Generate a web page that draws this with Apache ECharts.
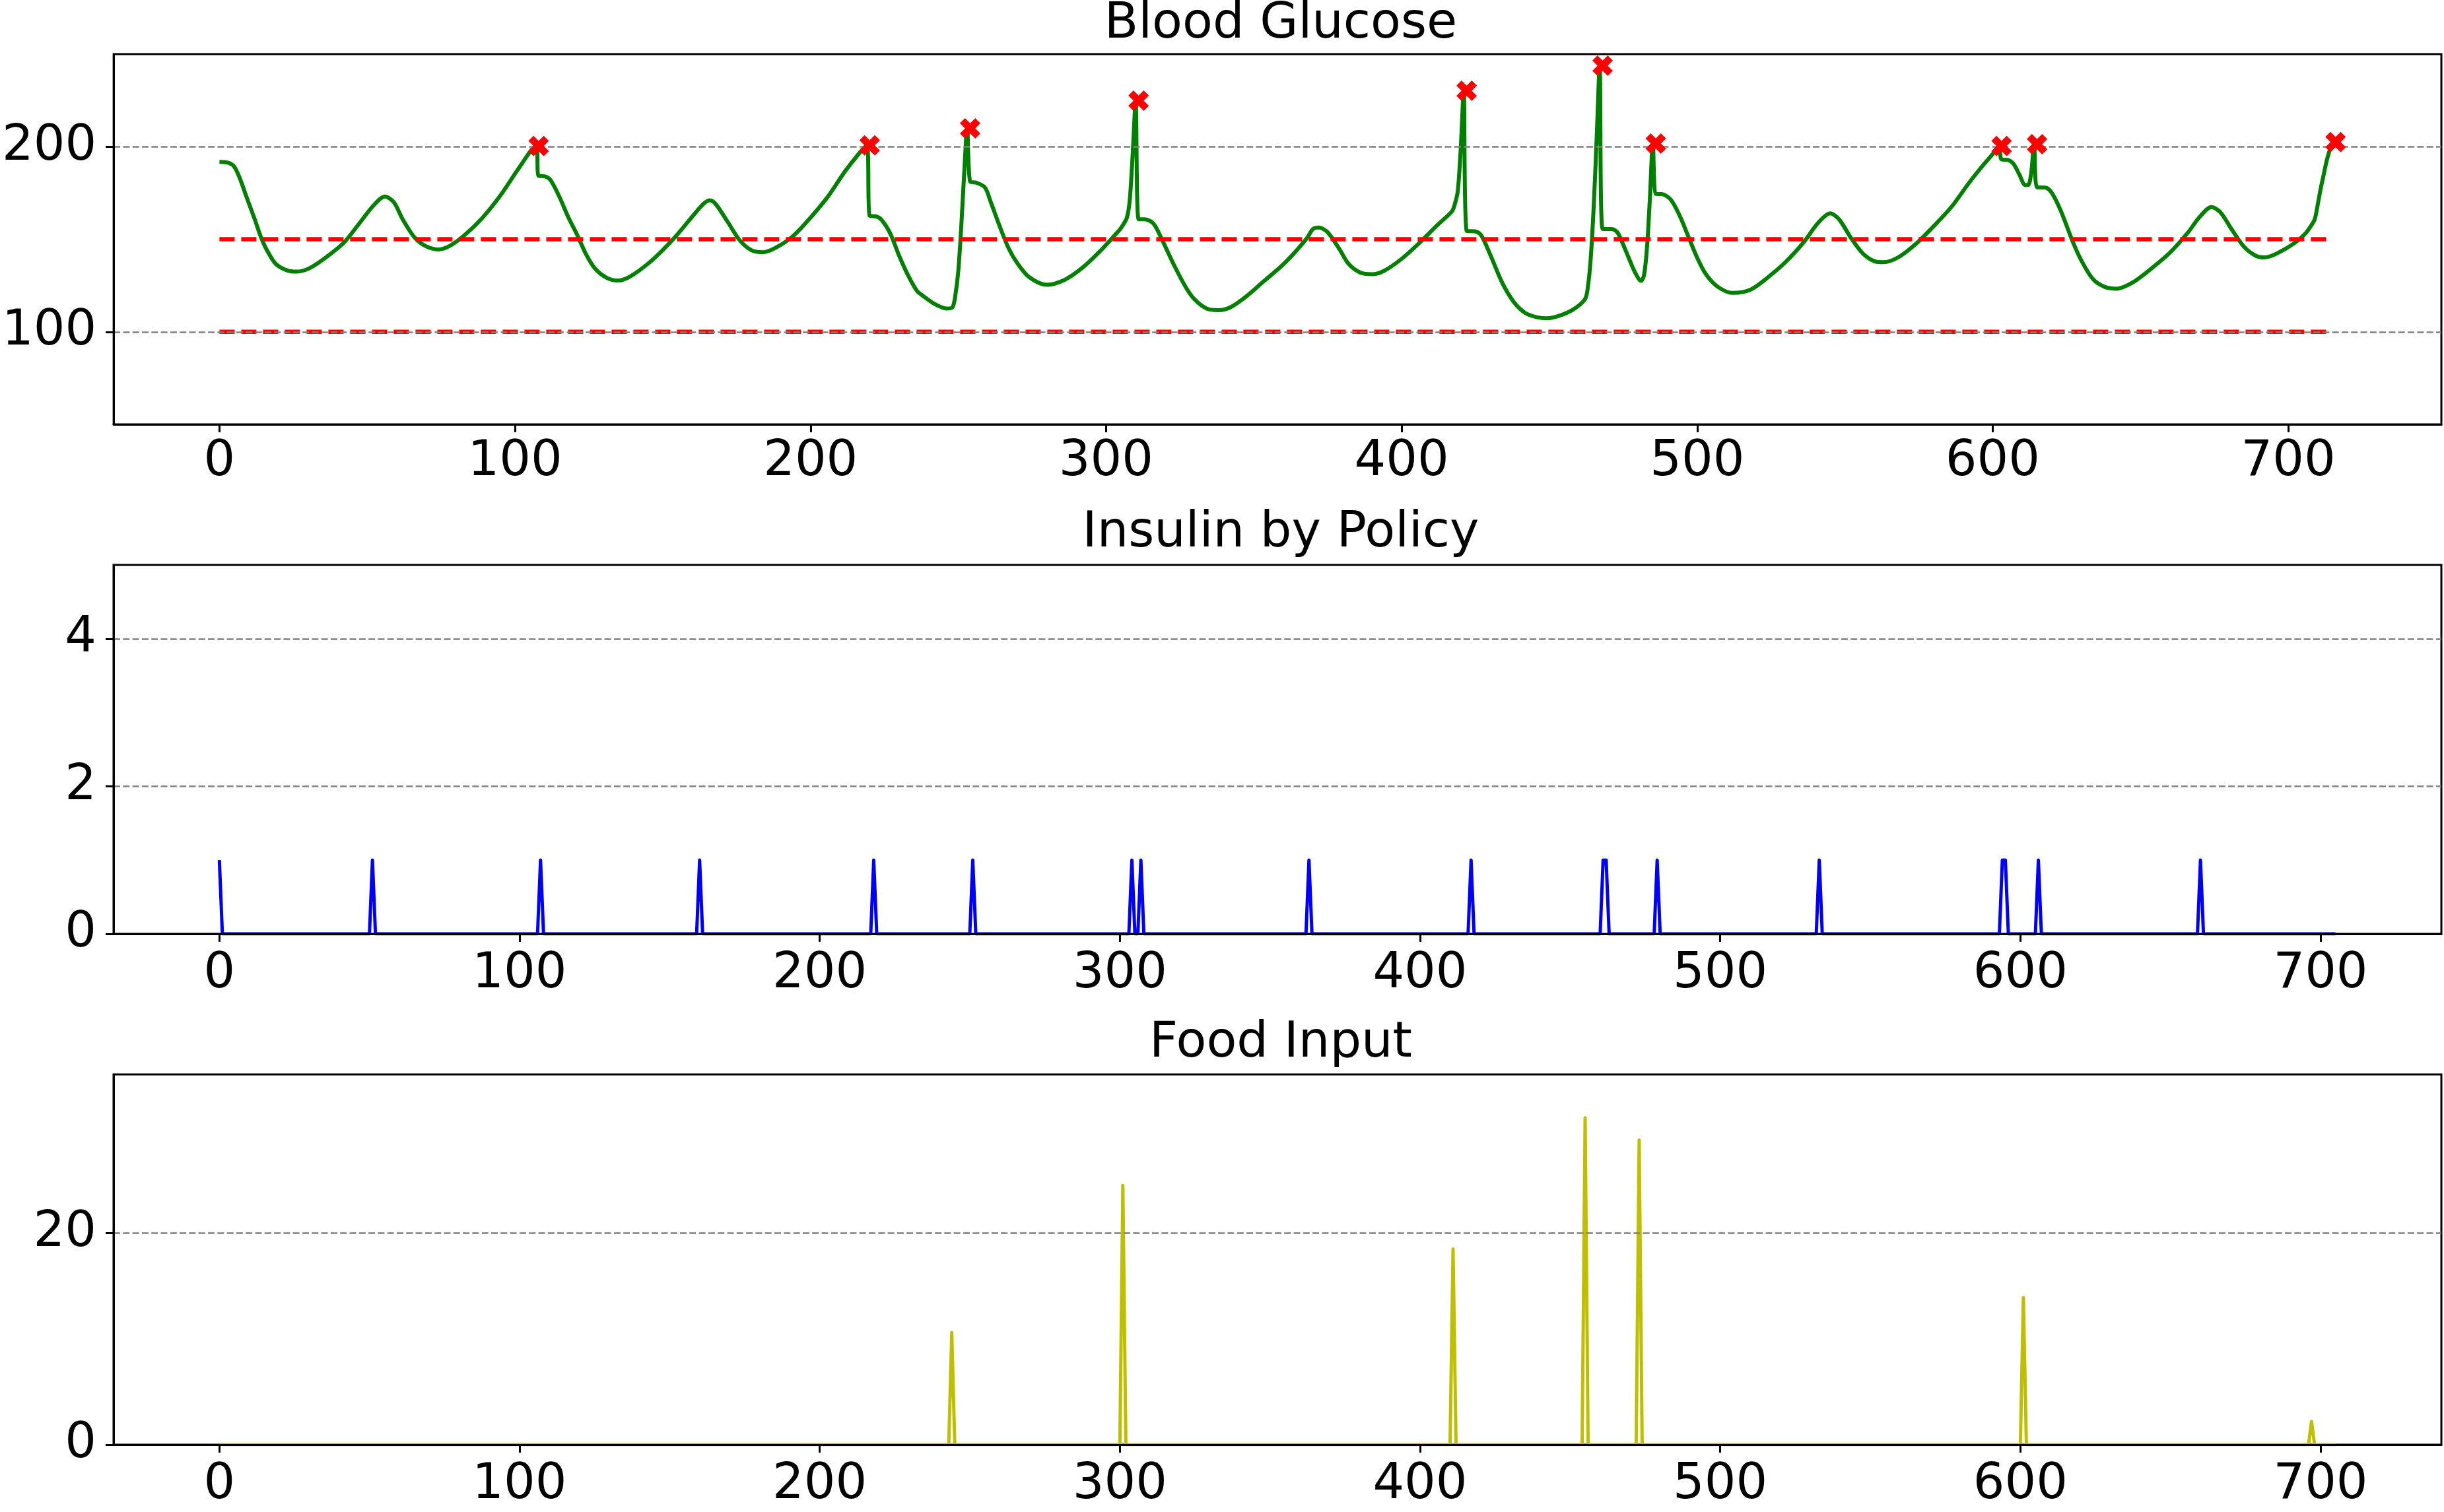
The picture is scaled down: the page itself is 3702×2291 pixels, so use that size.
<!DOCTYPE html>
<html><head><meta charset="utf-8">
<script src="https://cdn.jsdelivr.net/npm/echarts@6/dist/echarts.min.js"></script>
<style>html,body{margin:0;padding:0;background:#fff}#c{width:3702px;height:2291px}</style>
</head><body><div id="c"></div>
<script>
// ---- Blood glucose (time step, mg/dL) ----
const glucoseT = [0,3,5,7,9,12,14,16,19,23,26,30,35,42,47,52,56,59,62,66,70,74,78,83,89,95,101,107,108,110,112,115,118,121,124,127,131,135,139,145,150,155,161,164,166,168,172,176,180,184,188,194,200,206,212,219,220,222,224,227,230,233,236,238,242,246,248,249,250,251,252,253,254,256,259,261,264,267,270,274,280,286,292,298,303,305,307,308,309,310,311,313,316,319,323,327,330,334,338,342,347,353,359,363,368,370,372,375,379,382,386,390,394,400,406,412,417,418,419,420,421,422,425,427,430,434,438,442,446,449,453,458,462,463,464,465,466,467,468,471,473,475,477,479,481,482,483,484,485,486,488,491,494,497,500,503,507,512,518,524,530,536,541,545,548,552,556,560,563,568,574,580,586,592,597,600,602,603,605,607,609,611,612,613,614,615,618,620,623,627,630,634,638,642,647,653,660,666,670,674,677,681,685,689,692,696,702,706,708,709,710,711,712,713,714,715];
const glucoseV = [191.8,191.3,189.2,182.5,173.5,160.5,151.3,144.3,136.8,133.1,132.5,134.0,139.0,148.0,157.9,168.0,173.1,170.0,160.8,151.0,146.1,144.5,146.5,152.3,161.6,173.5,187.7,200.4,184.2,184.0,182.0,173.0,162.0,152.5,142.0,134.3,129.2,127.7,129.9,136.8,144.2,152.7,164.2,169.4,171.0,168.8,159.3,149.5,144.1,143.0,145.2,151.6,161.7,173.3,187.4,200.7,162.6,162.4,160.5,153.0,141.0,130.5,122.1,119.5,115.0,112.6,113.2,119.8,133.0,157.0,186.0,209.9,181.1,180.6,178.0,170.0,157.0,145.2,137.0,129.5,125.4,128.1,134.6,143.6,152.3,156.0,161.5,171.0,196.0,224.9,160.8,160.8,158.5,149.5,136.0,124.0,117.4,112.6,111.7,113.2,118.6,126.8,135.0,141.4,150.7,155.5,156.3,153.7,144.5,136.8,132.0,131.1,132.9,139.4,148.0,157.5,165.0,169.0,176.0,199.0,230.2,154.5,154.2,151.9,141.6,126.6,116.0,110.0,107.8,107.3,108.5,112.0,117.5,124.0,140.0,168.0,205.0,243.8,155.5,155.5,153.7,147.0,139.3,132.0,127.5,130.5,145.0,172.0,201.7,174.5,174.4,171.5,163.0,151.5,140.0,131.0,124.3,121.0,122.7,129.5,137.8,148.3,159.0,164.0,160.8,150.8,142.4,138.1,137.6,140.2,147.5,157.0,167.4,180.5,190.5,196.0,200.4,193.1,192.9,190.8,185.0,179.3,179.3,185.5,201.3,178.1,177.8,175.0,165.5,149.0,138.5,128.3,124.2,123.3,126.3,133.3,142.8,153.5,162.0,167.4,164.6,155.0,146.0,141.1,140.2,142.2,147.8,153.5,158.0,161.0,169.0,177.5,185.0,192.4,198.0,202.5];
// hyperglycaemia markers
const peakT = [108,220,254,311,422,468,486,603,615,716];
const peakV = [200.4,200.7,209.9,224.9,230.2,243.8,201.7,200.4,201.3,202.5];
// target band lines
const targetLevels = [100, 150];
const targetSpan = [0, 715];
// ---- Insulin by policy ----
const insulinLength = 706;
const insulinDoseT = [0,51,107,160,218,251,304,307,363,417,461,462,479,533,594,595,606,660];
const insulinDoseV = [1,1,1,1,1,1,1,1,1,1,1,1,1,1,1,1,1,1];
// ---- Food input ----
const foodLength = 706;
const foodT = [244,301,411,455,473,601,697];
const foodV = [10.6,24.5,18.5,30.9,28.8,13.9,2.2];
// ---- tick labels ----
const xTicks = [0,100,200,300,400,500,600,700];
const glucoseTicks = [100,200];
const insulinTicks = [0,2,4];
const foodTicks = [0,20];
const titles = ['Blood Glucose','Insulin by Policy','Food Input'];

const FONT = 'DejaVu Sans';
const FS = 75;

function spikes(len, times, vals){
  const arr = new Array(len).fill(0);
  times.forEach((t,i)=>{ arr[t] = vals[i]; });
  return arr.map((v,i)=>[i,v]);
}
const glucoseData = glucoseT.map((t,i)=>[t, glucoseV[i]]);
const peakData = peakT.map((t,i)=>[t, peakV[i]]);
const insulinData = spikes(insulinLength, insulinDoseT, insulinDoseV);
const foodData = spikes(foodLength, foodT, foodV);

const grids = [
  {left:172, top:82, width:3526, height:561},
  {left:172, top:856, width:3526, height:559},
  {left:172, top:1628, width:3526, height:561}
].map(g=>Object.assign(g,{show:true, borderColor:'#000', borderWidth:3, backgroundColor:'transparent'}));

function xAx(gi, min, max, margin){
  return {type:'value', gridIndex:gi, min:min, max:max, z:6,
    axisLine:{show:true, onZero:false, lineStyle:{color:'#000', width:3}},
    axisTick:{show:true, inside:false, length:12, lineStyle:{color:'#000', width:3}, customValues:xTicks},
    axisLabel:{show:true, customValues:xTicks, fontSize:FS, fontFamily:FONT, color:'#000', margin:margin},
    splitLine:{show:false}};
}
function yAx(gi, min, max, ticks){
  return {type:'value', gridIndex:gi, min:min, max:max, z:6,
    axisLine:{show:true, onZero:false, lineStyle:{color:'#000', width:3}},
    axisTick:{show:true, inside:false, length:12, lineStyle:{color:'#000', width:3}, customValues:ticks},
    axisLabel:{show:true, customValues:ticks, fontSize:FS, fontFamily:FONT, color:'#000', margin:26},
    splitLine:{show:false}};
}
const last = glucoseT[glucoseT.length-1] + 1;
const xMax1 = Math.max(last, peakT[peakT.length-1]);
const pad1 = xMax1*0.05;
const pad2 = (insulinLength-1)*0.05;

function gridLines(gi, vals, ymin){
  return {type:'line', xAxisIndex:gi, yAxisIndex:gi, data:[], z:1, silent:true,
    markLine:{silent:true, symbol:['none','none'], label:{show:false}, animation:false,
      lineStyle:{color:'#808080', type:[10,4.3], width:2.5},
      data: vals.filter(v=>v>ymin).map(v=>({yAxis:v}))}};
}

const xPath = 'path://M2.5,0 L5,2.5 L7.5,0 L10,2.5 L7.5,5 L10,7.5 L7.5,10 L5,7.5 L2.5,10 L0,7.5 L2.5,5 L0,2.5 Z';

const series = [
  gridLines(0, glucoseTicks, 50),
  gridLines(1, insulinTicks, 0),
  gridLines(2, foodTicks, 0),
  {type:'line', xAxisIndex:0, yAxisIndex:0, data:glucoseData, showSymbol:false, z:3,
    smooth:0.3, lineStyle:{color:'#008000', width:6, join:'round'}},
  ...targetLevels.map(lv=>({type:'line', xAxisIndex:0, yAxisIndex:0, showSymbol:false, z:4,
    data:[[targetSpan[0], lv],[targetSpan[1], lv]],
    lineStyle:{color:'#ff0000', width:6.5, type:[23,10]}})),
  {type:'scatter', xAxisIndex:0, yAxisIndex:0, data:peakData, symbol:xPath, symbolSize:31, z:5,
    itemStyle:{color:'#ff0000', opacity:1}},
  {type:'line', xAxisIndex:1, yAxisIndex:1, data:insulinData, showSymbol:false, z:3,
    lineStyle:{color:'#0000ff', width:5, join:'round'}},
  {type:'line', xAxisIndex:2, yAxisIndex:2, data:foodData, showSymbol:false, z:3,
    lineStyle:{color:'#bfbf00', width:5, join:'round'}}
];

const titleTops = [-5, 766, 1539];
const option = {
  animation:false,
  backgroundColor:'#fff',
  textStyle:{fontFamily:FONT},
  title: titles.map((t,i)=>({text:t, left:1935, top:titleTops[i], textAlign:'center',
    textStyle:{fontSize:FS, fontWeight:'normal', fontFamily:FONT, color:'#000'}})),
  grid: grids,
  xAxis: [xAx(0, -pad1, xMax1+pad1, 20), xAx(1, -pad2, insulinLength-1+pad2, 24), xAx(2, -pad2, foodLength-1+pad2, 24)],
  yAxis: [yAx(0, 50, 250, glucoseTicks), yAx(1, 0, 5, insulinTicks), yAx(2, 0, 35, foodTicks)],
  series: series
};
const chart = echarts.init(document.getElementById('c'), null, {renderer:'canvas'});
chart.setOption(option);
</script></body></html>
